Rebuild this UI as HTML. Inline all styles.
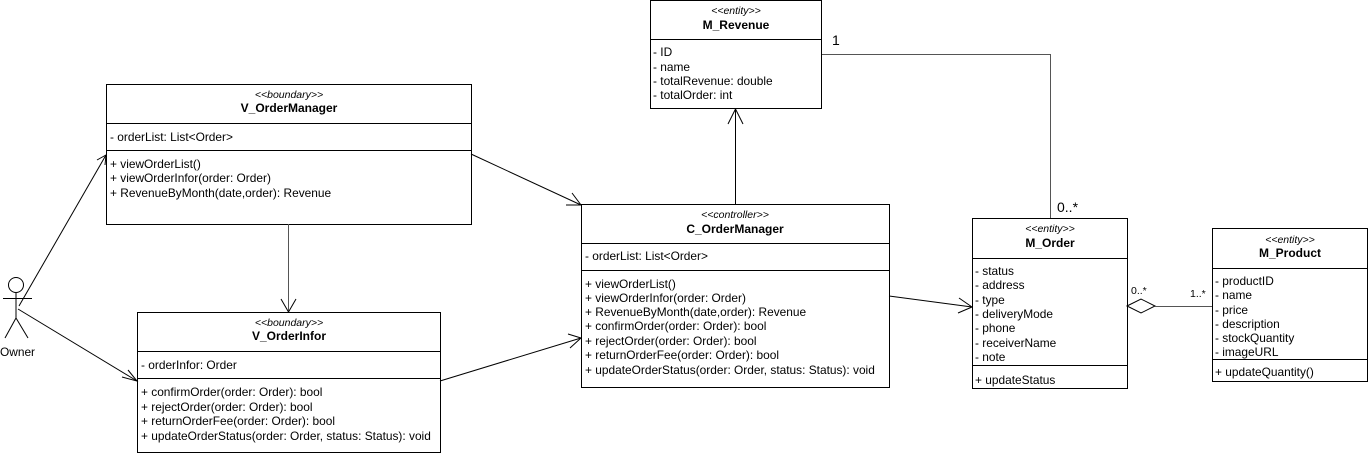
<!DOCTYPE html>
<html><head><meta charset="utf-8"><style>
html,body{margin:0;padding:0;background:#fff;}
svg text{font-family:"Liberation Sans",sans-serif;font-size:11.9px;fill:#000;}
.st{font-style:italic;font-size:10.5px;}
.nm{font-weight:bold;font-size:12px;}
</style></head><body>
<svg width="1369" height="453" viewBox="0 0 1369 453" xmlns="http://www.w3.org/2000/svg">
<g fill="none" stroke="#000" stroke-width="1">
<rect x="650.5" y="0.5" width="171" height="108"/>
<line x1="650" y1="39.5" x2="822" y2="39.5"/>
<rect x="106.5" y="84.5" width="365" height="140"/>
<line x1="106" y1="123.5" x2="471" y2="123.5"/>
<line x1="106" y1="150.5" x2="471" y2="150.5"/>
<rect x="137.5" y="312.5" width="303" height="140"/>
<line x1="137" y1="351.5" x2="440" y2="351.5"/>
<line x1="137" y1="378.5" x2="440" y2="378.5"/>
<rect x="581.5" y="204.5" width="308" height="183"/>
<line x1="581" y1="243.5" x2="889" y2="243.5"/>
<line x1="581" y1="270.5" x2="889" y2="270.5"/>
<rect x="972.5" y="218.5" width="155" height="170"/>
<line x1="972" y1="258.5" x2="1127" y2="258.5"/>
<line x1="972" y1="365.5" x2="1127" y2="365.5"/>
<rect x="1212.5" y="228.5" width="155" height="153"/>
<line x1="1212" y1="268.5" x2="1367" y2="268.5"/>
<line x1="1212" y1="359.5" x2="1367" y2="359.5"/>
<circle cx="16" cy="285" r="7.5"/>
<line x1="16" y1="293" x2="16" y2="318"/>
<line x1="3" y1="298.5" x2="32" y2="298.5"/>
<line x1="16" y1="318" x2="5" y2="338"/>
<line x1="16" y1="318" x2="28" y2="338"/>
<line x1="19" y1="306" x2="106" y2="155"/>
<polyline points="97,160 106,155 105,165"/>
<line x1="18" y1="309" x2="137" y2="381"/>
<polyline points="122,377 137,381 128,370"/>
<line x1="288.5" y1="224" x2="288.5" y2="312" stroke="#555"/>
<polyline points="281,299 288.5,312 296,299"/>
<line x1="471" y1="154" x2="581" y2="205"/>
<polyline points="566,205 581,205 572,193"/>
<line x1="440" y1="381" x2="581" y2="338"/>
<polyline points="568,334 581,338 570,348"/>
<line x1="735.5" y1="204" x2="735.5" y2="109"/>
<polyline points="728,124 735.5,109 743,124"/>
<line x1="889" y1="296" x2="972" y2="307"/>
<polyline points="959,298 972,307 958,313"/>
<polyline points="822,54.5 1050.5,54.5 1050.5,218" stroke="#555"/>
<polygon points="1127,306 1141,299 1155,306 1141,313" fill="#fff"/>
<line x1="1155" y1="306.5" x2="1212" y2="306.5" stroke="#555"/>
</g>
<text x="0" y="356">Owner</text>
<text x="832" y="45" style="font-size:14px">1</text>
<text x="1057" y="212" style="font-size:14px">0..*</text>
<text x="1131" y="294" style="font-size:10.5px">0..*</text>
<text x="1190" y="297" style="font-size:10.5px">1..*</text>

<text class="st" x="736" y="14" text-anchor="middle">&lt;&lt;entity&gt;&gt;</text>
<text class="nm" x="736" y="29" text-anchor="middle">M_Revenue</text>
<text x="653" y="56">- ID</text>
<text x="653" y="71">- name</text>
<text x="653" y="85">- totalRevenue: double</text>
<text x="653" y="99">- totalOrder: int</text>

<text class="st" x="289" y="98" text-anchor="middle">&lt;&lt;boundary&gt;&gt;</text>
<text class="nm" x="289" y="112" text-anchor="middle">V_OrderManager</text>
<text x="110" y="141">- orderList: List&lt;Order&gt;</text>
<text x="110" y="168">+ viewOrderList()</text>
<text x="110" y="182">+ viewOrderInfor(order: Order)</text>
<text x="110" y="197">+ RevenueByMonth(date,order): Revenue</text>

<text class="st" x="289" y="326" text-anchor="middle">&lt;&lt;boundary&gt;&gt;</text>
<text class="nm" x="289" y="340" text-anchor="middle">V_OrderInfor</text>
<text x="141" y="369">- orderInfor: Order</text>
<text x="141" y="396">+ confirmOrder(order: Order): bool</text>
<text x="141" y="411">+ rejectOrder(order: Order): bool</text>
<text x="141" y="425">+ returnOrderFee(order: Order): bool</text>
<text x="141" y="440">+ updateOrderStatus(order: Order, status: Status): void</text>

<text class="st" x="735" y="218" text-anchor="middle">&lt;&lt;controller&gt;&gt;</text>
<text class="nm" x="735" y="233" text-anchor="middle">C_OrderManager</text>
<text x="585" y="260">- orderList: List&lt;Order&gt;</text>
<text x="585" y="288">+ viewOrderList()</text>
<text x="585" y="302">+ viewOrderInfor(order: Order)</text>
<text x="585" y="316">+ RevenueByMonth(date,order): Revenue</text>
<text x="585" y="330">+ confirmOrder(order: Order): bool</text>
<text x="585" y="345">+ rejectOrder(order: Order): bool</text>
<text x="585" y="359">+ returnOrderFee(order: Order): bool</text>
<text x="585" y="374">+ updateOrderStatus(order: Order, status: Status): void</text>

<text class="st" x="1050" y="232" text-anchor="middle">&lt;&lt;entity&gt;&gt;</text>
<text class="nm" x="1050" y="247" text-anchor="middle">M_Order</text>
<text x="975" y="275">- status</text>
<text x="975" y="289">- address</text>
<text x="975" y="304">- type</text>
<text x="975" y="318">- deliveryMode</text>
<text x="975" y="332">- phone</text>
<text x="975" y="347">- receiverName</text>
<text x="975" y="361">- note</text>
<text x="975" y="384">+ updateStatus</text>

<text class="st" x="1290" y="243" text-anchor="middle">&lt;&lt;entity&gt;&gt;</text>
<text class="nm" x="1290" y="257" text-anchor="middle">M_Product</text>
<text x="1215" y="285">- productID</text>
<text x="1215" y="299">- name</text>
<text x="1215" y="314">- price</text>
<text x="1215" y="328">- description</text>
<text x="1215" y="342">- stockQuantity</text>
<text x="1215" y="356">- imageURL</text>
<text x="1215" y="376">+ updateQuantity()</text>
</svg>
</body></html>
